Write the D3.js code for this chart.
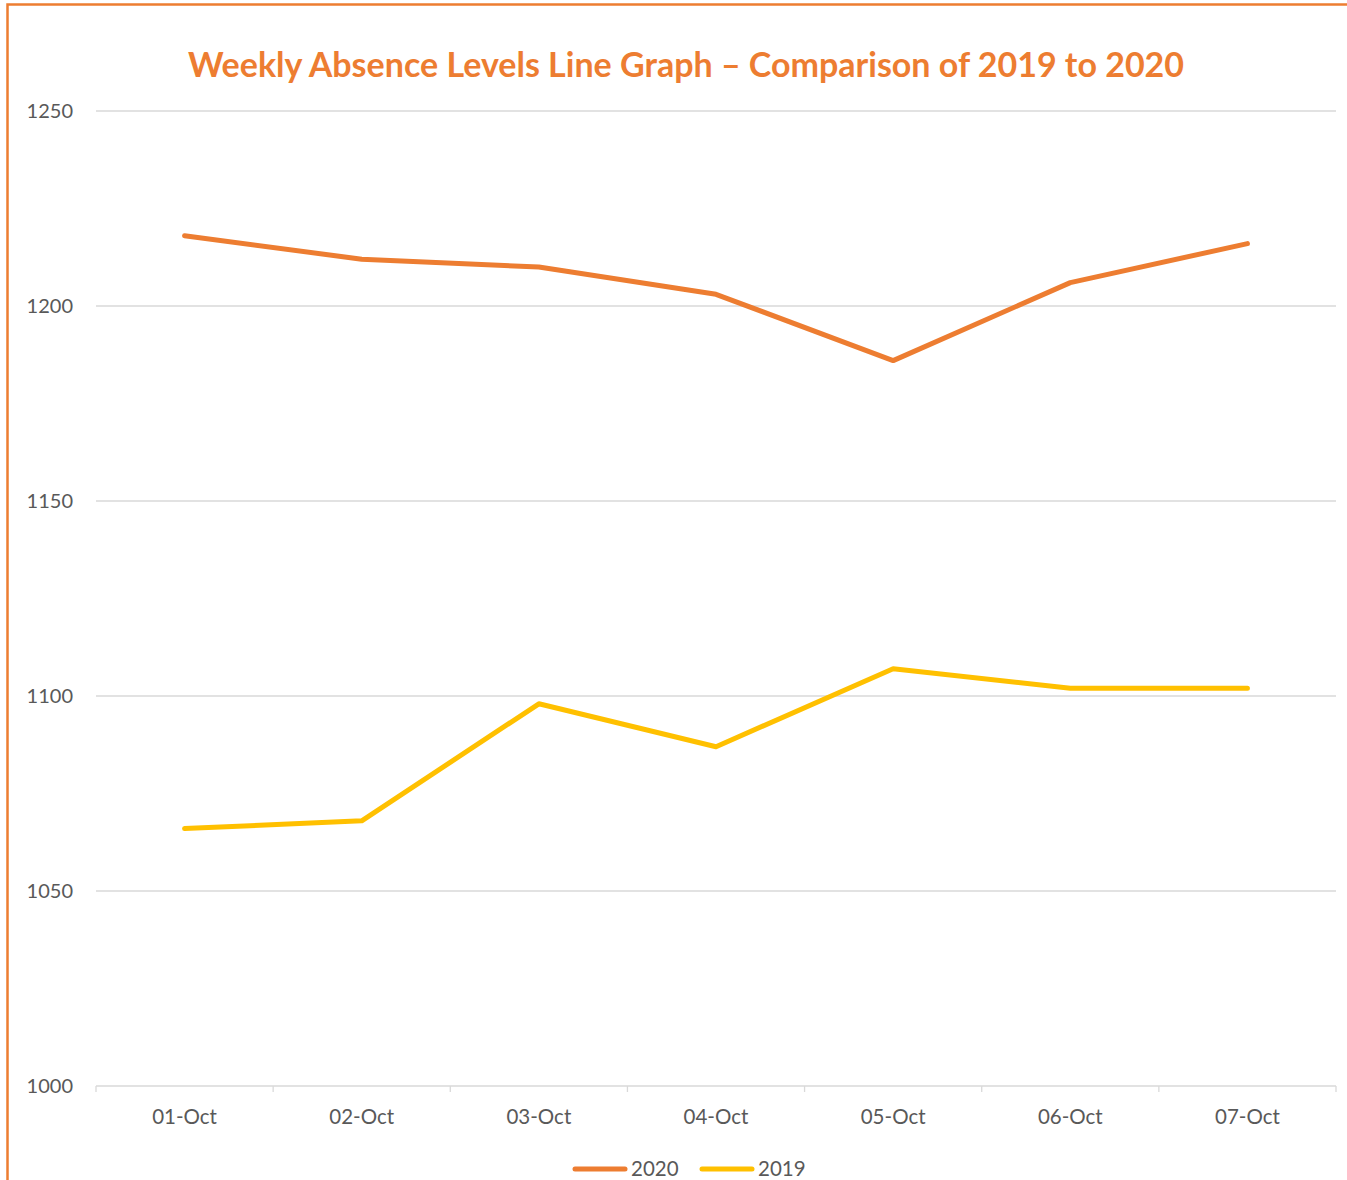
<!DOCTYPE html>
<html><head><meta charset="utf-8">
<script src="https://cdn.jsdelivr.net/npm/d3@7"></script>
<style>body{margin:0;background:#fff;}svg{display:block;font-family:Lato,"Open Sans",sans-serif;}</style>
</head><body><svg id="c" width="1347" height="1180"></svg>
<script>
const categories = ["01-Oct","02-Oct","03-Oct","04-Oct","05-Oct","06-Oct","07-Oct"];
const series2020 = [1218,1212,1210,1203,1186,1206,1216];
const series2019 = [1066,1068,1098,1087,1107,1102,1102];
const yTicks = [1000,1050,1100,1150,1200,1250];
const seriesNames = ["2020","2019"];
const colors = ["#ED7D31","#FFC000"];

const svg = d3.select("#c");
const orange = "#ED7D31", grey = "#595959";
// border
svg.append("path").attr("d","M7.5,1180 V4.5 H1347").attr("fill","none").attr("stroke",orange).attr("stroke-width",2.5);

const L=96,R=1336,T=111,B=1086;
const x = d3.scaleBand().domain(categories).range([L,R]);
const y = d3.scaleLinear().domain([1000,1250]).range([B,T]);

// gridlines
svg.append("g").selectAll("line").data(yTicks).join("line")
  .attr("x1",L).attr("x2",R).attr("y1",d=>y(d)).attr("y2",d=>y(d))
  .attr("stroke","#d9d9d9").attr("stroke-width",1.3);
// y labels
svg.append("g").selectAll("text").data(yTicks).join("text")
  .attr("x",73).attr("y",d=>y(d)).attr("dy","0.35em").attr("text-anchor","end")
  .attr("fill",grey).attr("font-size",20).text(d=>d);
// x axis ticks
const xb = categories.map(c=>x(c)).concat([R]);
svg.append("g").selectAll("line").data(xb).join("line")
  .attr("x1",d=>d).attr("x2",d=>d).attr("y1",B).attr("y2",B+6)
  .attr("stroke","#d9d9d9").attr("stroke-width",1.3);
svg.append("g").selectAll("text").data(categories).join("text")
  .attr("x",d=>x(d)+x.bandwidth()/2).attr("y",1117).attr("dy","0.35em").attr("text-anchor","middle")
  .attr("fill",grey).attr("font-size",20.5).text(d=>d);

// lines
const line = d3.line().x((d,i)=>x(categories[i])+x.bandwidth()/2).y(d=>y(d));
[series2020,series2019].forEach((s,i)=>{
  svg.append("path").datum(s).attr("d",line).attr("fill","none")
    .attr("stroke",colors[i]).attr("stroke-width",5).attr("stroke-linejoin","round").attr("stroke-linecap","round");
});

// title
svg.append("text").attr("x",686).attr("y",65).attr("dy","0.35em").attr("text-anchor","middle")
  .attr("fill",orange).attr("font-weight","bold").attr("font-size",34)
  .text("Weekly Absence Levels Line Graph \u2013 Comparison of 2019 to 2020");

// legend
const lg = [{x:573},{x:700}];
seriesNames.forEach((n,i)=>{
  const g = svg.append("g").attr("transform",`translate(${lg[i].x},1169)`);
  g.append("line").attr("x1",2).attr("x2",52).attr("stroke",colors[i]).attr("stroke-width",5).attr("stroke-linecap","round");
  g.append("text").attr("x",58).attr("dy","0.35em").attr("fill",grey).attr("font-size",20.5).text(n);
});
</script></body></html>
